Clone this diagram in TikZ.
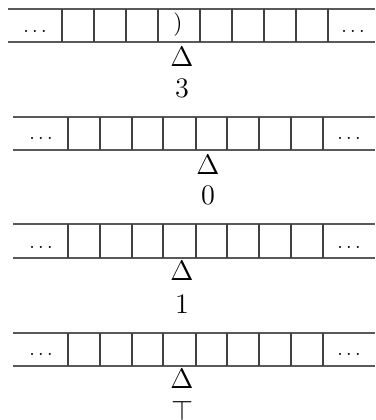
\documentclass[tikz,border=0pt]{standalone}
\begin{document}
\begin{tikzpicture}[x=0.425pt,y=-0.425pt,
  tapeline/.style={draw=black!65, line width=0.7pt},
  cellline/.style={draw=black!75, line width=0.6pt},
  lbl/.style={inner sep=0pt, outer sep=0pt},
  headlbl/.style={inner sep=0pt, font=\large},
  dotlbl/.style={inner sep=0pt, anchor=base, font=\footnotesize},
  numlbl/.style={inner sep=0pt, font=\large}]
\useasboundingbox (0,0) rectangle (375,420);
% tape 1
\draw[tapeline] (8,9) -- (375,9) (8,42) -- (375,42);
\foreach \x in {62,94,126,158,200,232,264,296,328} \draw[cellline] (\x,9) -- (\x,42);
\node[dotlbl] (t1l) at (35,32.5) {$\ldots$};
\node[dotlbl] (t1r) at (353,32.5) {$\ldots$};
\node[lbl] (par) at (178,24.5) {)};
\node[headlbl] (h1) at (182,57) {$\Delta$};
\node[numlbl] (s1) at (182,88.3) {3};
% tape 2
\draw[tapeline] (13,117) -- (375,117) (13,150) -- (375,150);
\foreach \x in {68,100,132,163,196,227,259,291,323} \draw[cellline] (\x,117) -- (\x,150);
\node[dotlbl] (t2l) at (41,139.5) {$\ldots$};
\node[dotlbl] (t2r) at (349,139.5) {$\ldots$};
\node[headlbl] (h2) at (208,165) {$\Delta$};
\node[numlbl] (s2) at (208,195.5) {0};
% tape 3
\draw[tapeline] (13,224) -- (375,224) (13,258) -- (375,258);
\foreach \x in {68,100,132,163,196,227,259,291,323} \draw[cellline] (\x,224) -- (\x,258);
\node[dotlbl] (t3l) at (41,248.5) {$\ldots$};
\node[dotlbl] (t3r) at (349,248.5) {$\ldots$};
\node[headlbl] (h3) at (182,271) {$\Delta$};
\node[numlbl] (s3) at (182,304) {1};
% tape 4
\draw[tapeline] (13,333) -- (375,333) (13,366) -- (375,366);
\foreach \x in {68,100,132,163,196,227,259,291,323} \draw[cellline] (\x,333) -- (\x,366);
\node[dotlbl] (t4l) at (41,355.5) {$\ldots$};
\node[dotlbl] (t4r) at (349,355.5) {$\ldots$};
\node[headlbl] (h4) at (182,379) {$\Delta$};
\node[headlbl] (s4) at (182,411) {$\top$};
\end{tikzpicture}
\end{document}
